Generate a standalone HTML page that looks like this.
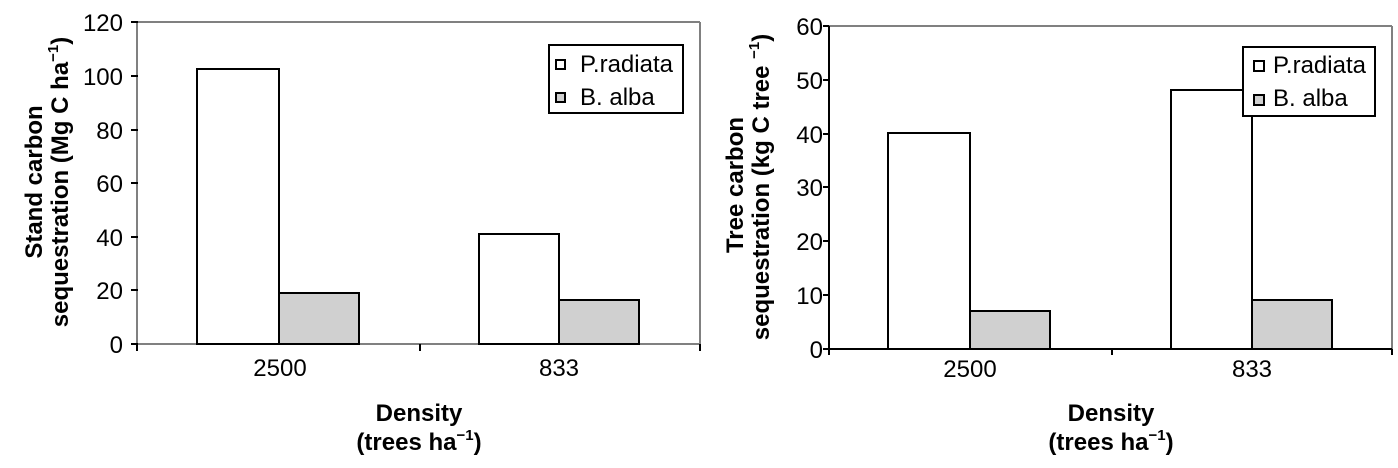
<!DOCTYPE html>
<html><head><meta charset="utf-8"><style>body{margin:0;background:#fff}svg{display:block}</style></head>
<body>
<svg width="1398" height="468" viewBox="0 0 1398 468" xmlns="http://www.w3.org/2000/svg" font-family="Liberation Sans, sans-serif">
<!-- LEFT CHART -->
<g>
<line x1="137" y1="22" x2="700" y2="22" stroke="#808080" stroke-width="2"/>
<line x1="700" y1="22" x2="700" y2="344" stroke="#808080" stroke-width="2"/>
<line x1="137" y1="22" x2="137" y2="344" stroke="#808080" stroke-width="2"/>
<g font-size="24" text-anchor="end" fill="#000">
<text x="123" y="31">120</text><text x="123" y="85">100</text><text x="123" y="139">80</text>
<text x="123" y="192">60</text><text x="123" y="246">40</text><text x="123" y="299">20</text><text x="123" y="353">0</text>
</g>
<line x1="137" y1="344" x2="700" y2="344" stroke="#808080" stroke-width="2"/>
<g stroke="#000" stroke-width="2">
<rect x="197" y="69" width="82" height="275" fill="#fff"/>
<rect x="279" y="293" width="80" height="51" fill="#d0d0d0"/>
<rect x="479" y="234" width="80" height="110" fill="#fff"/>
<rect x="559" y="300" width="80" height="44" fill="#d0d0d0"/>
</g>
<g stroke="#000" stroke-width="2">
<line x1="131" y1="22" x2="138" y2="22"/><line x1="131" y1="76" x2="138" y2="76"/><line x1="131" y1="130" x2="138" y2="130"/>
<line x1="131" y1="183" x2="138" y2="183"/><line x1="131" y1="237" x2="138" y2="237"/><line x1="131" y1="290" x2="138" y2="290"/>
<line x1="131" y1="344" x2="138" y2="344"/>
<line x1="137" y1="344" x2="137" y2="351"/>
<line x1="420" y1="344" x2="420" y2="351"/><line x1="700" y1="344" x2="700" y2="351"/>
</g>
<g font-size="24" text-anchor="middle"><text x="280" y="376">2500</text><text x="559" y="376">833</text></g>
<g font-size="24" font-weight="bold" text-anchor="middle">
<text x="419" y="421">Density</text>
<text x="419" y="450">(trees ha<tspan font-size="15" dy="-10">−1</tspan><tspan dy="10">)</tspan></text>
</g>
<g font-size="24" font-weight="bold" text-anchor="middle">
<text transform="translate(42,182) rotate(-90)">Stand carbon</text>
<text transform="translate(68,182) rotate(-90)">sequestration (Mg C ha<tspan font-size="15" dy="-10">−1</tspan><tspan dy="10">)</tspan></text>
</g>
<rect x="549" y="45" width="134" height="68" fill="#fff" stroke="#000" stroke-width="2"/>
<rect x="556" y="60" width="9" height="9" fill="#fff" stroke="#000" stroke-width="2"/>
<rect x="556" y="93" width="9" height="9" fill="#d0d0d0" stroke="#000" stroke-width="2"/>
<g font-size="24"><text x="580" y="72">P.radiata</text><text x="580" y="105">B. alba</text></g>
</g>
<!-- RIGHT CHART -->
<g>
<line x1="829" y1="26" x2="1392" y2="26" stroke="#808080" stroke-width="2"/>
<line x1="1392" y1="26" x2="1392" y2="355" stroke="#808080" stroke-width="2"/>
<line x1="829" y1="26" x2="829" y2="355" stroke="#000" stroke-width="2"/>
<g stroke="#000" stroke-width="2">
<line x1="823" y1="26" x2="829" y2="26"/><line x1="823" y1="80" x2="829" y2="80"/><line x1="823" y1="134" x2="829" y2="134"/>
<line x1="823" y1="187" x2="829" y2="187"/><line x1="823" y1="241" x2="829" y2="241"/><line x1="823" y1="295" x2="829" y2="295"/>
<line x1="1112" y1="349" x2="1112" y2="355"/><line x1="1392" y1="349" x2="1392" y2="355"/>
</g>
<g font-size="24" text-anchor="end">
<text x="823" y="35">60</text><text x="823" y="89">50</text><text x="823" y="143">40</text>
<text x="823" y="196">30</text><text x="823" y="250">20</text><text x="823" y="304">10</text><text x="823" y="358">0</text>
</g>
<g stroke="#000" stroke-width="2">
<rect x="888" y="133" width="82" height="216" fill="#fff"/>
<rect x="970" y="311" width="80" height="38" fill="#d0d0d0"/>
<rect x="1171" y="90" width="81" height="259" fill="#fff"/>
<rect x="1252" y="300" width="80" height="49" fill="#d0d0d0"/>
</g>
<line x1="823" y1="349" x2="1392" y2="349" stroke="#000" stroke-width="2"/>
<g font-size="24" text-anchor="middle"><text x="970" y="377">2500</text><text x="1252" y="377">833</text></g>
<g font-size="24" font-weight="bold" text-anchor="middle">
<text x="1111" y="421">Density</text>
<text x="1111" y="450">(trees ha<tspan font-size="15" dy="-10">−1</tspan><tspan dy="10">)</tspan></text>
</g>
<g font-size="24" font-weight="bold" text-anchor="middle">
<text transform="translate(743,185) rotate(-90)">Tree carbon</text>
<text transform="translate(769,187) rotate(-90)">sequestration (kg C tree <tspan font-size="15" dy="-10">−1</tspan><tspan dy="10">)</tspan></text>
</g>
<rect x="1243" y="47" width="132" height="69" fill="#fff" stroke="#000" stroke-width="2"/>
<rect x="1254" y="61" width="10" height="10" fill="#fff" stroke="#000" stroke-width="2"/>
<rect x="1254" y="95" width="10" height="10" fill="#d0d0d0" stroke="#000" stroke-width="2"/>
<g font-size="24"><text x="1273" y="73">P.radiata</text><text x="1273" y="106">B. alba</text></g>
</g>
</svg>
</body></html>
